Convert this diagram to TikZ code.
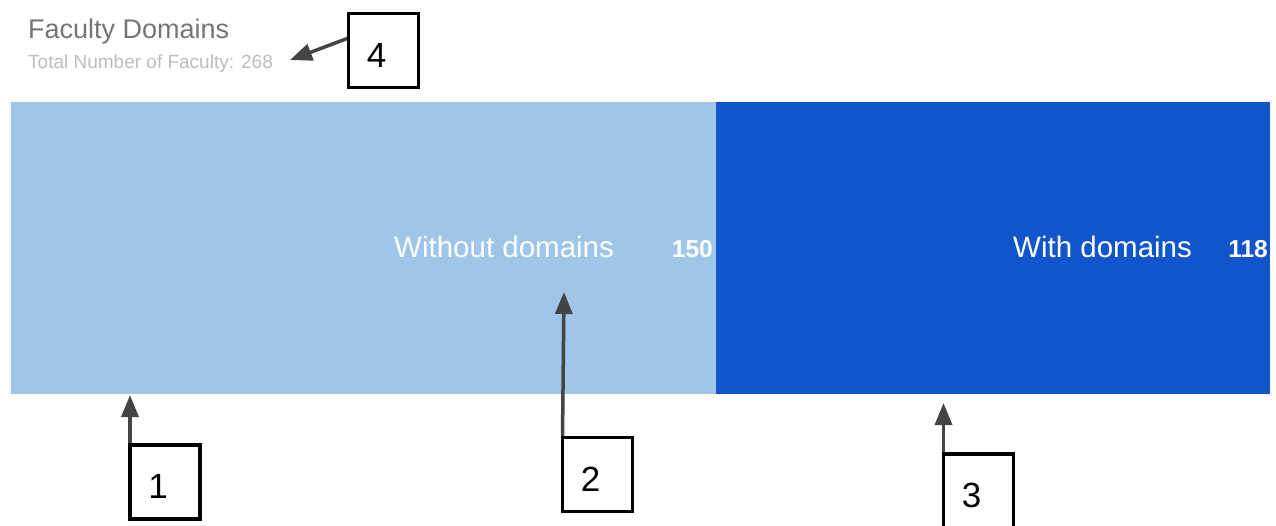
\documentclass[tikz,border=0pt]{standalone}
\usepackage{fontspec}
\setmainfont{Liberation Sans}
\usetikzlibrary{arrows.meta}
\definecolor{barlight}{HTML}{9FC5E8}
\definecolor{bardark}{HTML}{1155CC}
\definecolor{titlegray}{HTML}{757575}
\definecolor{subgray}{HTML}{BDBDBD}
\definecolor{arrowgray}{HTML}{444444}
% digit placed a little left of and below the box centre
\newcommand{\boxdigit}[1]{\raisebox{-16.5pt}{#1\hspace*{14pt}}}
\tikzset{
  bar/.style={inner sep=0pt, outer sep=0pt},
  barlabel/.style={text=white, inner sep=0pt, font=\fontsize{29.5}{34}\selectfont},
  barvalue/.style={text=white, inner sep=0pt, font=\bfseries\fontsize{24.5}{29}\selectfont},
  callout/.style={draw=black, line width=3.5pt, fill=white, minimum width=70pt,
    minimum height=74pt, inner sep=0pt, outer sep=0pt, text height=10pt, text depth=10pt,
    font=\fontsize{35}{40}\selectfont},
  pointer/.style={draw=arrowgray, line width=3.5pt,
    -{Triangle[length=22pt,width=17pt]}}
}
\begin{document}
\begin{tikzpicture}[x=1pt,y=-1pt]
\clip (0,0) rectangle (1276,525);
\fill[white] (0,0) rectangle (1276,525);

% heading
\node[anchor=base west, inner sep=0pt, text=titlegray,
  font=\fontsize{27}{32}\selectfont] (title) at (28,38) {Faculty Domains};
\node[anchor=base west, inner sep=0pt, text=subgray,
  font=\fontsize{19}{22}\selectfont] (total) at (28,68) {Total Number of Faculty: 268};

% stacked bar
\fill[barlight] (11,102) rectangle (716,394);
\fill[bardark] (716,102) rectangle (1270,394);
\node[bar, minimum width=705pt, minimum height=292pt] (without) at (363.5,248) {};
\node[bar, minimum width=554pt, minimum height=292pt] (with) at (993,248) {};

\node[barlabel, anchor=base west] (lwithout) at (394,257) {Without domains};
\node[barvalue, anchor=base east] (vwithout) at (713,257) {150};
\node[barlabel, anchor=base west] (lwith) at (1013,257) {With domains};
\node[barvalue, anchor=base east] (vwith) at (1268,257) {118};

% numbered callouts
\node[callout] (c1) at (165,482) {\boxdigit{1}};
\node[callout] (c2) at (597.5,474.5) {\boxdigit{2}};
\node[callout] (c3) at (978.5,491) {\boxdigit{3}};
\node[callout] (c4) at (383.5,50.5) {\boxdigit{4}};

% arrow targets
\coordinate (t1) at (c1.west |- 0,395);
\coordinate (t2) at (564,292);
\coordinate (t3) at (c3.west |- 0,403);
\coordinate (t4) at (290,60);

\draw[pointer] (c1.north west) -- (t1);
\draw[pointer] (c2.north west) -- (t2);
\draw[pointer] (c3.north west) -- (t3);
\draw[pointer] (c4.west |- 0,38) -- (t4);

% redraw box frames over the arrow tails
\node[callout] at (c1) {\boxdigit{1}};
\node[callout] at (c2) {\boxdigit{2}};
\node[callout] at (c3) {\boxdigit{3}};
\node[callout] at (c4) {\boxdigit{4}};
\end{tikzpicture}
\end{document}
